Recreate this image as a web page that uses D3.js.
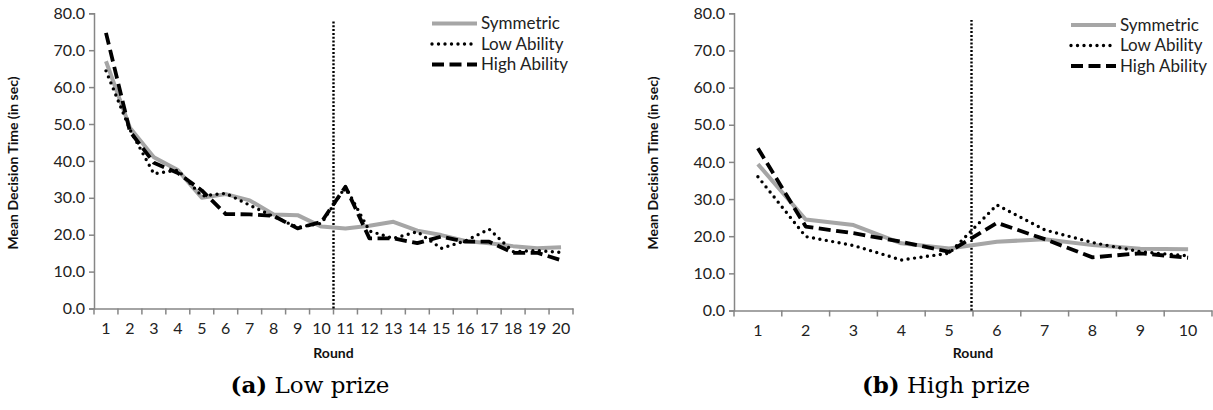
<!DOCTYPE html>
<html><head><meta charset="utf-8">
<script src="https://cdn.jsdelivr.net/npm/d3@7"></script>
<style>body{margin:0;background:#fff}svg{display:block}</style>
</head><body>
<svg id="c" width="1213" height="410"></svg>
<script>
const seriesNames = ["Symmetric", "Low Ability", "High Ability"];
const yTicks = [0, 10, 20, 30, 40, 50, 60, 70, 80];

const lowRounds = d3.range(1, 21);
const lowSymmetric = [67, 49, 41, 37.5, 30, 31, 29.3, 25.5, 25.3, 22.2, 21.7, 22.4, 23.5, 21.1, 19.9, 18.3, 17.7, 16.9, 16.3, 16.6];
const lowLow = [64.4, 48.5, 36.5, 37.5, 30.5, 31.2, 28, 24.9, 22, 23.1, 33, 21, 19, 20.8, 16.3, 18.3, 21.5, 15.4, 15.7, 15.2];
const lowHigh = [74.7, 48, 39.5, 36.7, 32, 25.6, 25.5, 25.1, 21.7, 23.5, 33, 19, 19, 17.7, 19.5, 18.1, 18.1, 15.1, 15.1, 13.1];

const highRounds = d3.range(1, 11);
const highSymmetric = [39.4, 24.5, 23.0, 18.1, 16.7, 18.5, 19.2, 17.6, 16.6, 16.5];
const highLow = [36.0, 19.9, 17.5, 13.6, 15.4, 28.4, 21.7, 18.3, 15.8, 14.7];
const highHigh = [43.7, 22.6, 20.8, 18.5, 15.8, 23.6, 19.2, 14.3, 15.4, 14.2];

const svg = d3.select("#c");
const styles = [
  {stroke: "#a6a6a6", width: 4, dash: null, cap: "butt"},
  {stroke: "#000", width: 3.4, dash: "0 6.5", cap: "round"},
  {stroke: "#000", width: 3.8, dash: "12 5.5", cap: "butt"}
];

function panel(o) {
  const g = svg.append("g");
  const x = d3.scaleBand().domain(o.rounds).range([o.x0, o.x1]);
  const y = d3.scaleLinear().domain([0, 80]).range([o.y0, o.y1]);
  const axisColor = "#868686";
  // y axis
  const ya = g.append("g").attr("transform", `translate(${o.x0},0)`)
    .call(d3.axisLeft(y).tickValues(yTicks).tickFormat(d3.format(".1f")).tickSize(5).tickPadding(4));
  ya.select(".domain").attr("stroke", axisColor).attr("stroke-width", 1.5);
  ya.selectAll(".tick line").attr("stroke", axisColor).attr("stroke-width", 1.5);
  ya.selectAll("text").attr("font-family", "Lato").attr("font-size", 16).attr("fill", "#222");
  // x axis
  const xa = g.append("g").attr("transform", `translate(0,${o.y0})`)
    .call(d3.axisBottom(x).tickSize(0).tickPadding(14));
  xa.select(".domain").attr("stroke", axisColor).attr("stroke-width", 1.5);
  xa.selectAll("text").attr("font-family", "Lato").attr("font-size", 16).attr("fill", "#222");
  // category boundary ticks
  const bounds = o.rounds.map(r => x(r)).concat([x(o.rounds[o.rounds.length - 1]) + x.bandwidth()]);
  g.selectAll("line.bt").data(bounds).join("line")
    .attr("x1", d => d).attr("x2", d => d).attr("y1", o.y0).attr("y2", o.y0 + 6)
    .attr("stroke", axisColor).attr("stroke-width", 1.5);
  // vertical dotted divider
  const vx = x(o.divider) + x.bandwidth() + (o.divOff || 0);
  g.append("line").attr("x1", vx).attr("x2", vx).attr("y1", o.y0).attr("y2", o.divTop)
    .attr("stroke", "#000").attr("stroke-width", 2.4).attr("stroke-dasharray", "2 1.8");
  // lines
  const line = d3.line().x((d, i) => x(o.rounds[i]) + x.bandwidth() / 2).y(d => y(d));
  o.series.forEach((s, i) => {
    const st = styles[i];
    g.append("path").attr("d", line(s)).attr("fill", "none")
      .attr("stroke", st.stroke).attr("stroke-width", st.width)
      .attr("stroke-dasharray", st.dash).attr("stroke-linecap", st.cap)
      .attr("stroke-linejoin", "round");
  });
  // legend
  seriesNames.forEach((n, i) => {
    const st = styles[i];
    const ly = o.legY + i * 20.5;
    g.append("line").attr("x1", o.legX).attr("x2", o.legX + 45).attr("y1", ly).attr("y2", ly)
      .attr("stroke", st.stroke).attr("stroke-width", st.width)
      .attr("stroke-dasharray", st.dash).attr("stroke-linecap", st.cap);
    g.append("text").attr("x", o.legX + 49).attr("y", ly).attr("dy", "0.35em")
      .attr("font-family", "Lato").attr("font-size", 17).attr("fill", "#222").text(n);
  });
  // axis titles
  g.append("text").attr("transform", `translate(${o.titleX},${163}) rotate(-90)`)
    .attr("text-anchor", "middle").attr("font-family", "Lato").attr("font-weight", "bold")
    .attr("font-size", 14).attr("fill", "#111").text("Mean Decision Time (in sec)");
  g.append("text").attr("x", (o.x0 + o.x1) / 2).attr("y", 358)
    .attr("text-anchor", "middle").attr("font-family", "Lato").attr("font-weight", "bold")
    .attr("font-size", 14).attr("fill", "#111").text("Round");
  // caption
  const cap = g.append("text").attr("x", o.capX).attr("y", 393).attr("text-anchor", "middle")
    .attr("font-family", "DejaVu Serif").attr("font-size", 23).attr("fill", "#000");
  cap.append("tspan").attr("font-weight", "bold").text(o.capLetter);
  cap.append("tspan").text(" " + o.capText);
}

panel({rounds: lowRounds, series: [lowSymmetric, lowLow, lowHigh], x0: 94, x1: 573, y0: 308.5, y1: 13.3,
  divider: 10, divTop: 21, legX: 432, legY: 23.5, titleX: 18, capX: 310, capLetter: "(a)", capText: "Low prize"});
panel({rounds: highRounds, series: [highSymmetric, highLow, highHigh], x0: 734, x1: 1212, y0: 310.5, y1: 13.3,
  divider: 5, divOff: -1.5, divTop: 20, legX: 1071, legY: 25, titleX: 658, capX: 946, capLetter: "(b)", capText: "High prize"});
</script>
</body></html>
